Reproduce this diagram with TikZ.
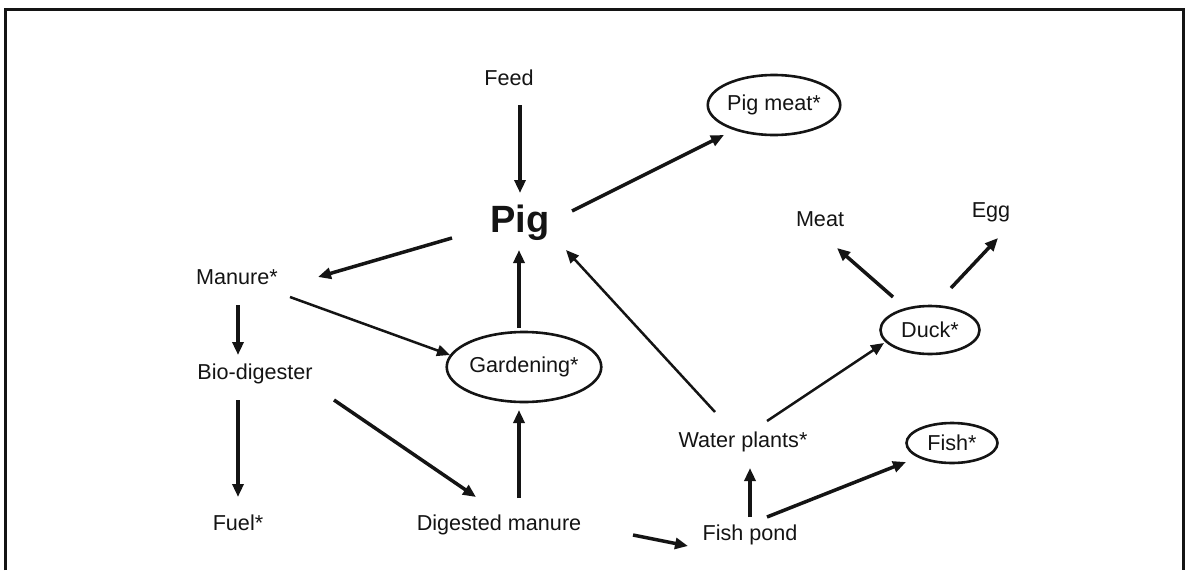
\documentclass[tikz,border=0pt]{standalone}
\usepackage{fontspec}
\setmainfont{Liberation Sans}
\usetikzlibrary{arrows.meta,shapes.geometric,calc}
\definecolor{ink}{RGB}{20,20,20}
\begin{document}
\begin{tikzpicture}[x=1pt,y=-1pt,
  lbl/.style={anchor=base,inner sep=0pt,text=ink,font=\fontsize{21.6}{26}\selectfont},
  oval/.style={draw=ink,line width=2.6pt,ellipse,inner sep=0pt,text=ink,font=\fontsize{21.6}{26}\selectfont},
  arr/.style={draw=ink,line width=3.5pt,-{Triangle[length=13pt,width=11pt]}},
  thinarr/.style={draw=ink,line width=2.5pt,-{Triangle[length=13pt,width=11pt]}}]
\useasboundingbox (0,0) rectangle (1188,570);
\draw[line width=3pt,ink] (5,570) -- (5,9) -- (1183,9) -- (1183,570);
% nodes
\node[lbl] (feed) at (509,85) {Feed};
\node[lbl,font=\fontsize{38}{44}\selectfont\bfseries] (pig) at (520,232) {Pig};
\node[oval,minimum width=125pt,minimum height=60pt] (pigmeat) at (774,105) {Pig meat*};
\node[lbl] (meat) at (820,226) {Meat};
\node[lbl] (egg) at (991,217) {Egg};
\node[lbl] (manure) at (237,284) {Manure*};
\node[lbl] (bio) at (255,379) {Bio-digester};
\node[lbl] (fuel) at (238,530) {Fuel*};
\node[lbl] (dm) at (499,530) {Digested manure};
\node[oval,minimum width=142pt,minimum height=70pt] (gard) at (524,367) {Gardening*};
\node[lbl] (water) at (743,447) {Water plants*};
\node[lbl] (pond) at (750,540) {Fish pond};
\node[oval,minimum width=91pt,minimum height=40pt] (fish) at (952,443) {Fish*};
\node[oval,minimum width=99pt,minimum height=48pt] (duck) at (930,330) {Duck*};
% connectors
\draw[arr] ($(feed.base)+(11,20)$) -- ($(pig.base)+(0,-39)$);
\draw[arr] ($(pig.base)+(52,-21)$) -- ($(pigmeat)+(-50,30)$);
\draw[arr] ($(pig.base)+(-68,6)$) -- ($(manure.base)+(81,-7)$);
\draw[thinarr] ($(manure.base)+(53,13)$) -- ($(gard)+(-74,-12)$);
\draw[arr] ($(manure.base)+(1,21)$) -- ($(bio.base)+(-17,-24)$);
\draw[arr] ($(bio.base)+(-17,21)$) -- ($(fuel.base)+(0,-33)$);
\draw[arr] ($(bio.base)+(79,21)$) -- ($(dm.base)+(-23,-33)$);
\draw[arr] ($(dm.base)+(20,-32)$) -- ($(gard)+(-5,43)$);
\draw[arr] ($(gard)+(-5,-39)$) -- ($(pig.base)+(-1,18)$);
\draw[thinarr] ($(water.base)+(-28,-35)$) -- ($(pig.base)+(46,18)$);
\draw[thinarr] ($(water.base)+(24,-26)$) -- ($(duck)+(-46,13)$);
\draw[arr] ($(duck)+(-37,-33)$) -- ($(meat.base)+(17,22)$);
\draw[arr] ($(duck)+(21,-42)$) -- ($(egg.base)+(7,21)$);
\draw[arr] ($(pond.base)+(0,-23)$) -- ($(water.base)+(7,21)$);
\draw[arr] ($(pond.base)+(17,-23)$) -- ($(fish)+(-46,19)$);
\draw[arr] ($(dm.base)+(134,5)$) -- ($(pond.base)+(-62,6)$);
\end{tikzpicture}
\end{document}
